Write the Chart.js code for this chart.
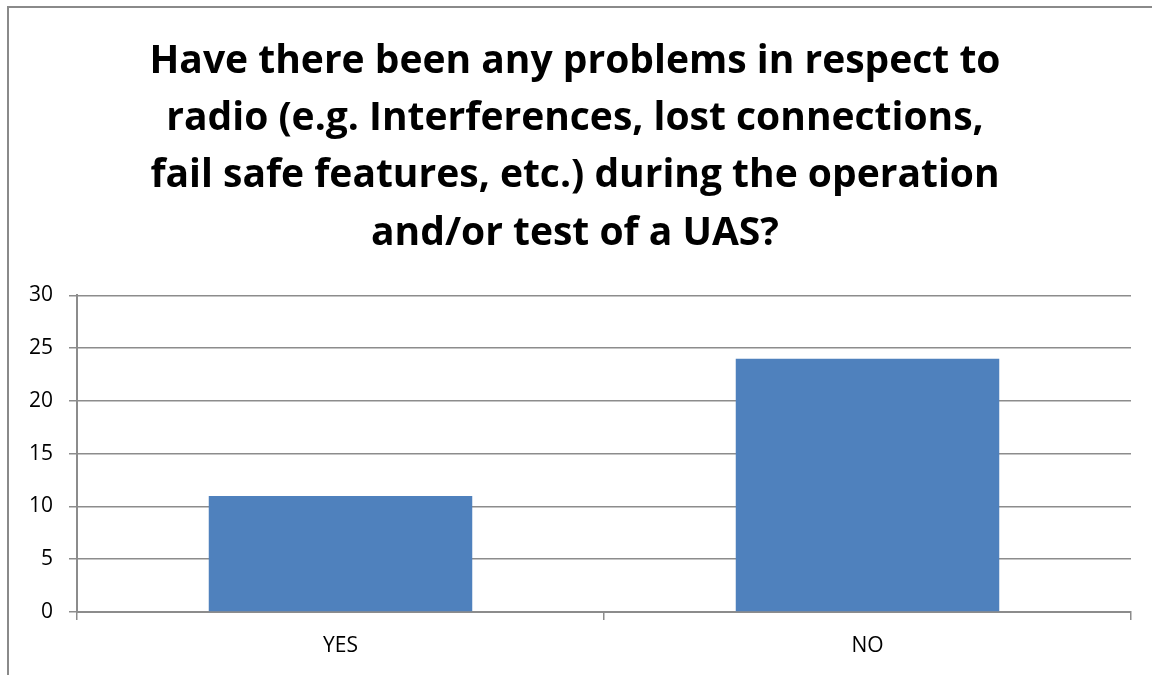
<!DOCTYPE html>
<html>
<head>
<meta charset="utf-8">
<script src="https://cdn.jsdelivr.net/npm/chart.js"></script>
<style>
    * { margin: 0; padding: 0; box-sizing: border-box; }
    body { width: 1152px; height: 675px; background: #ffffff; overflow: hidden; position: relative; }
    .frame {
        position: absolute; left: 7px; top: 6px; width: 1200px; height: 700px;
        border-left: 2px solid #8a8a8a; border-top: 2px solid #8a8a8a;
    }
    .chart-box { position: absolute; left: 0; top: 0; width: 1152px; height: 675px; }
</style>
</head>
<body>
<div class="frame"></div>
<div class="chart-box"><canvas id="chart"></canvas></div>
<script>
// Survey answers
const categories = ["YES", "NO"];
const answerCounts = [11, 24];
const yTicks = [0, 5, 10, 15, 20, 25, 30];
const titleLines = [
    "Have there been any problems in respect to",
    "radio (e.g. Interferences, lost connections,",
    "fail safe features, etc.) during the operation",
    "and/or test of a UAS?"
];

const gridGrey = '#8c8c8c';

new Chart(document.getElementById('chart').getContext('2d'), {
    type: 'bar',
    data: {
        labels: categories,
        datasets: [{
            data: answerCounts,
            backgroundColor: '#4f81bd',
            borderWidth: 0,
            categoryPercentage: 1,
            barPercentage: 0.5
        }]
    },
    options: {
        responsive: true,
        maintainAspectRatio: false,
        animation: false,
        // left padding keeps the title centred on the page, not on the chart box
        layout: { padding: { left: 19, right: 21, top: 0, bottom: 0 } },
        plugins: {
            legend: { display: false },
            tooltip: { enabled: false },
            title: {
                display: true,
                text: titleLines,
                color: '#000000',
                font: { family: "'Open Sans', sans-serif", size: 39, weight: 'bold', lineHeight: 1.47 },
                padding: { top: 33, bottom: 33 }
            }
        },
        scales: {
            x: {
                afterFit: scale => { scale.height = 63; },
                grid: { offset: true, drawOnChartArea: false, drawTicks: true, tickLength: 8, color: gridGrey, lineWidth: 1.5 },
                border: { display: true, color: gridGrey, width: 2 },
                ticks: { color: '#000000', padding: 13, font: { family: "'Open Sans', sans-serif", size: 21 } }
            },
            y: {
                min: 0,
                max: 30,
                afterFit: scale => { scale.width = 58; },
                afterBuildTicks: scale => { scale.ticks = yTicks.map(v => ({ value: v })); },
                grid: { color: gridGrey, lineWidth: 1.5, drawTicks: true, tickLength: 8 },
                border: { display: true, color: gridGrey, width: 2 },
                ticks: { color: '#000000', padding: 16, font: { family: "'Open Sans', sans-serif", size: 21 } }
            }
        }
    }
});
</script>
</body>
</html>
